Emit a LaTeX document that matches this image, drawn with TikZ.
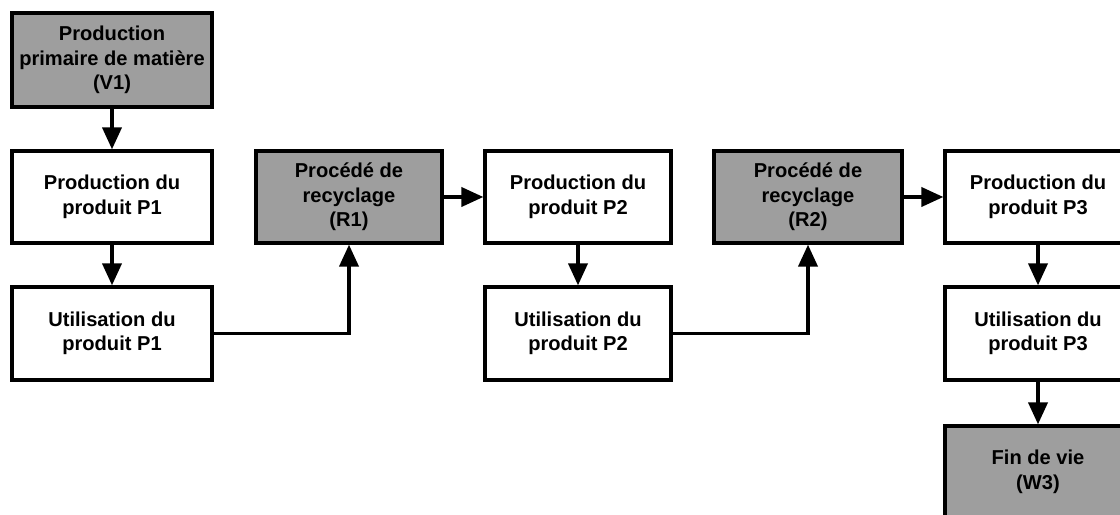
\documentclass[tikz,border=0pt]{standalone}
\usepackage{fontspec}
\setmainfont{Liberation Sans}
\usetikzlibrary{arrows.meta}
\definecolor{fillgrey}{gray}{0.62}
\tikzset{
  box/.style={draw=black,line width=2.4pt,fill=white,minimum width=4.65cm,minimum height=2.3cm,
    inner sep=0pt,align=center,font=\fontsize{14.3}{17.5}\selectfont\bfseries},
  greybox/.style={box,fill=fillgrey},
  arr/.style={line width=2.4pt,-{Triangle[width=0.48cm,length=0.55cm]}}
}
\begin{document}
\begin{tikzpicture}
\clip (0,0) rectangle (28,12.875);
\fill[white] (0,0) rectangle (28,12.875);
% first product: primary material, production, use
\node[greybox,minimum width=5cm,minimum height=2.35cm] (v1) at (2.8,11.375) {Production\\primaire de matière\\(V1)};
\node[box,minimum width=5cm] (p1) at (2.8,7.95) {Production du\\produit P1};
\node[box,minimum width=5cm,minimum height=2.325cm] (u1) at (2.8,4.5375) {Utilisation du\\produit P1};
% recycling and second product
\node[greybox] (r1) at (8.725,7.95) {Procédé de\\recyclage\\(R1)};
\node[box] (p2) at (14.45,7.95) {Production du\\produit P2};
\node[box,minimum height=2.325cm] (u2) at (14.45,4.5375) {Utilisation du\\produit P2};
% recycling and third product, end of life
\node[greybox,minimum width=4.7cm] (r2) at (20.2,7.95) {Procédé de\\recyclage\\(R2)};
\node[box] (p3) at (25.95,7.95) {Production du\\produit P3};
\node[box,minimum height=2.325cm] (u3) at (25.95,4.5375) {Utilisation du\\produit P3};
\node[greybox] (w3) at (25.95,1.075) {Fin de vie\\(W3)};
% flows
\draw[arr] (v1) -- (p1);
\draw[arr] (p1) -- (u1);
\draw[arr] (u1.east) -| (r1.south);
\draw[arr] (r1) -- (p2);
\draw[arr] (p2) -- (u2);
\draw[arr] (u2.east) -| (r2.south);
\draw[arr] (r2) -- (p3);
\draw[arr] (p3) -- (u3);
\draw[arr] (u3) -- (w3);
\end{tikzpicture}
\end{document}
